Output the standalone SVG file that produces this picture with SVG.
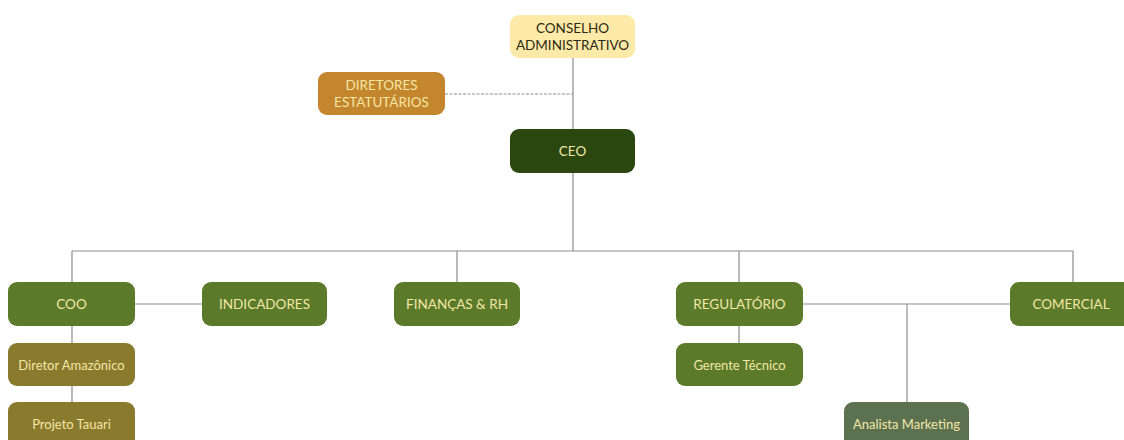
<svg xmlns="http://www.w3.org/2000/svg" width="1124" height="440" viewBox="0 0 1124 440">
<style>
.n{stroke:none}
.t{font-family:Lato,"Open Sans","Noto Sans",sans-serif;font-size:13.5px;fill:#f3e6a6;text-anchor:middle;dominant-baseline:central}
.s{font-size:13px}
.d{fill:#2b2b12}
.c{stroke:#8e8e8e;stroke-width:1.2;fill:none}
.green{fill:#5b7a2a}
.olive{fill:#8a7a2e}
</style>
<rect width="1124" height="440" fill="#ffffff"/>
<g id="connectors">
<path class="c" d="M573 58V129M573 173V251M72 251H1073M72 251V282M457 251V282M739 251V282M1073 251V282M135 304H202M72 326V343M72 386V402M803 304H1010M907 304V402M739 326V343"/>
<path class="c" d="M445 94H573" stroke-dasharray="3 1.5"/>
</g>
<g id="conselho"><rect x="510" y="15" width="125" height="43" rx="9" fill="#fde9a8"/><text class="t d" x="572.5" y="28">CONSELHO</text><text class="t d" x="572.5" y="45">ADMINISTRATIVO</text></g>
<g id="diretores"><rect x="318" y="72" width="127" height="43" rx="9" fill="#c4862c"/><text class="t" x="381.5" y="85">DIRETORES</text><text class="t" x="381.5" y="102">ESTATUTÁRIOS</text></g>
<g id="ceo"><rect x="510" y="129" width="125" height="44" rx="9" fill="#2a470f"/><text class="t" x="572.5" y="151">CEO</text></g>
<g id="coo"><rect class="green" x="8" y="282" width="127" height="44" rx="9"/><text class="t" x="71.5" y="304">COO</text></g>
<g id="indicadores"><rect class="green" x="202" y="282" width="125" height="44" rx="9"/><text class="t" x="264.5" y="304">INDICADORES</text></g>
<g id="financas"><rect class="green" x="394" y="282" width="126" height="44" rx="9"/><text class="t" x="457" y="304">FINANÇAS &amp; RH</text></g>
<g id="regulatorio"><rect class="green" x="676" y="282" width="127" height="44" rx="9"/><text class="t" x="739.5" y="304">REGULATÓRIO</text></g>
<g id="comercial"><rect class="green" x="1010" y="282" width="127" height="44" rx="9"/><text class="t" x="1071" y="304">COMERCIAL</text></g>
<g id="diretor-amazonico"><rect class="olive" x="8" y="343" width="127" height="43" rx="9"/><text class="t s" x="71.5" y="364.5">Diretor Amazônico</text></g>
<g id="projeto-tauari"><rect class="olive" x="8" y="402" width="127" height="46" rx="9"/><text class="t s" x="71.5" y="424">Projeto Tauari</text></g>
<g id="gerente-tecnico"><rect class="green" x="676" y="343" width="127" height="43" rx="9"/><text class="t s" x="739.5" y="364.5">Gerente Técnico</text></g>
<g id="analista-marketing"><rect x="844" y="402" width="125" height="46" rx="9" fill="#5b7150"/><text class="t s" x="906.5" y="424">Analista Marketing</text></g>
</svg>
